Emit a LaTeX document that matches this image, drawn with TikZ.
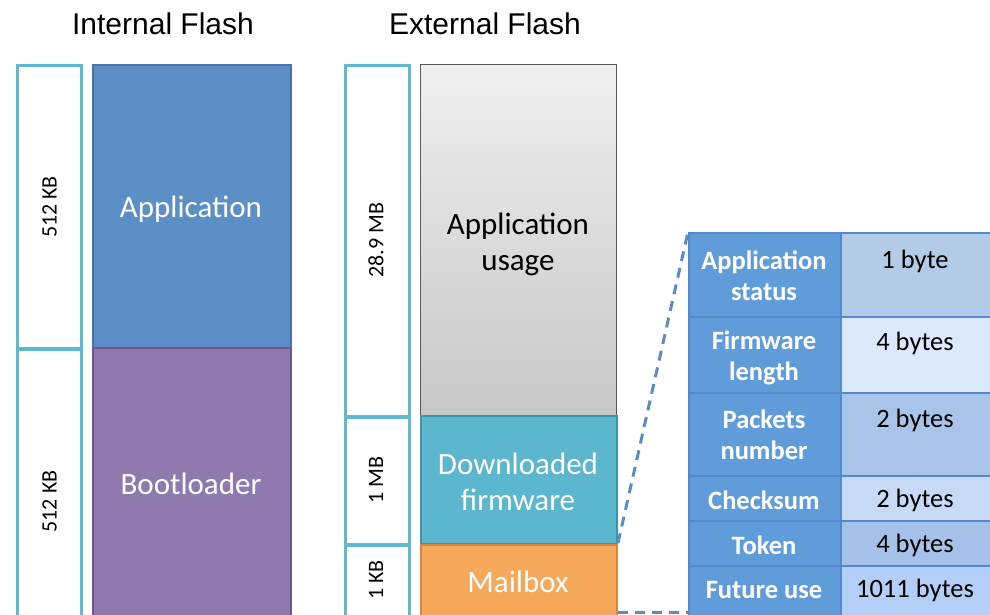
\documentclass[tikz,border=0pt]{standalone}
\usepackage{fontspec}
\setmainfont{Carlito}
\newfontfamily\arialf{Liberation Sans}
\usetikzlibrary{positioning}
\definecolor{barc}{HTML}{5BBAD0}
\definecolor{appf}{HTML}{5C8FC5}
\definecolor{appd}{HTML}{4A72A6}
\definecolor{bootf}{HTML}{8F79AE}
\definecolor{bootd}{HTML}{6C5A8C}
\definecolor{dlf}{HTML}{5BB6CE}
\definecolor{dld}{HTML}{3F93A8}
\definecolor{mbf}{HTML}{F6A85B}
\definecolor{mbd}{HTML}{D5873F}
\definecolor{tl}{HTML}{619CDA}
\definecolor{tgrid}{HTML}{5289CA}
\definecolor{rA}{HTML}{B3CBE7}
\definecolor{rB}{HTML}{DCE8FB}
\definecolor{rC}{HTML}{A8C4E8}
\definecolor{rD}{HTML}{C8DAF6}
\definecolor{rE}{HTML}{A6C2EA}
\definecolor{rF}{HTML}{B4CFF7}
\definecolor{dashc}{HTML}{5B8CC7}
\tikzset{
  sizebar/.style={draw=barc, line width=3pt, fill=white, anchor=north west, inner sep=0pt},
  region/.style={anchor=north west, inner sep=0pt, line width=2pt},
  sizelbl/.style={rotate=90, font=\fontsize{22}{26}\selectfont, text=black},
  reglbl/.style={font=\fontsize{31}{36}\selectfont, align=center},
  title/.style={font=\arialf\fontsize{30}{35}\selectfont, text=black},
  lcell/.style={fill=tl, draw=tgrid, line width=1.5pt, anchor=north west, inner sep=0pt, minimum width=152pt},
  rcell/.style={draw=tgrid, line width=1.5pt, anchor=north west, inner sep=0pt, minimum width=160pt},
  ltxt/.style={font=\bfseries\fontsize{26.5}{31}\selectfont, text=white, align=center},
  rtxt/.style={font=\fontsize{26.5}{31}\selectfont, text=black},
  dashln/.style={draw=dashc, line width=3pt, dash pattern=on 10pt off 7pt}
}
\begin{document}
\begin{tikzpicture}[x=1pt,y=-1pt]
\useasboundingbox (0,0) rectangle (990,614);
% titles
\node[title] (t1) at (163,24) {Internal Flash};
\node[title] (t2) at (485,24) {External Flash};
% internal flash size bars
\node[sizebar, minimum width=64pt, minimum height=283pt] (s1) at (16,64) {};
\node[sizebar, minimum width=64pt, minimum height=280pt] (s2) at (16,348) {};
\node[sizelbl] at (s1.center) {512 KB};
\node[sizelbl] at ([yshift=-12pt]s2.center) {512 KB};
% internal regions
\node[region, fill=appf, draw=appd, minimum width=198pt, minimum height=283pt] (app) at (92,64) {};
\node[region, fill=bootf, draw=bootd, minimum width=198pt, minimum height=280pt] (boot) at (92,347) {};
\node[reglbl, text=white] at (191,209) {Application};
\node[reglbl, text=white] at (191,484) {Bootloader};
% external size bars
\node[sizebar, minimum width=64pt, minimum height=351pt] (s3) at (344,64) {};
\node[sizebar, minimum width=64pt, minimum height=127pt] (s4) at (344,416) {};
\node[sizebar, minimum width=64pt, minimum height=80pt] (s5) at (344,544) {};
\node[sizelbl] at (376,240) {28.9 MB};
\node[sizelbl] at (376,480) {1 MB};
\node[sizelbl] at (376,580) {1 KB};
% external regions
\node[region, draw=black!65, line width=1.2pt, top color=black!6, bottom color=black!22, minimum width=196pt, minimum height=351pt] (use) at (420,64) {};
\node[region, fill=dlf, draw=dld, minimum width=196pt, minimum height=128pt] (dl) at (420,415) {};
\node[region, fill=mbf, draw=mbd, minimum width=196pt, minimum height=80pt] (mb) at (420,544) {};
\node[reglbl, text=black] at (518,244) {Application\\usage};
\node[reglbl, text=white] at (518,482) {Downloaded\\firmware};
\node[reglbl, text=white] at (518,582) {Mailbox};
% table
\node[lcell, minimum height=84pt] (l1) at (688,232) {};
\node[lcell, minimum height=76pt] (l2) at (688,316) {};
\node[lcell, minimum height=83pt] (l3) at (688,392) {};
\node[lcell, minimum height=45pt] (l4) at (688,475) {};
\node[lcell, minimum height=45pt] (l5) at (688,520) {};
\node[lcell, minimum height=55pt] (l6) at (688,565) {};
\node[rcell, fill=rA, minimum height=84pt] (r1) at (840,232) {};
\node[rcell, fill=rB, minimum height=76pt] (r2) at (840,316) {};
\node[rcell, fill=rC, minimum height=83pt] (r3) at (840,392) {};
\node[rcell, fill=rD, minimum height=45pt] (r4) at (840,475) {};
\node[rcell, fill=rE, minimum height=45pt] (r5) at (840,520) {};
\node[rcell, fill=rF, minimum height=55pt] (r6) at (840,565) {};
\node[ltxt] at (764,276) {Application\\status};
\node[ltxt] at (764,358) {Firmware\\length};
\node[ltxt] at (764,435) {Packets\\number};
\node[ltxt] at (764,500) {Checksum};
\node[ltxt] at (764,545) {Token};
\node[ltxt] at (764,590) {Future use};
\node[rtxt] at (915,261) {1 byte};
\node[rtxt] at (915,343) {4 bytes};
\node[rtxt] at (915,420) {2 bytes};
\node[rtxt] at (915,500) {2 bytes};
\node[rtxt] at (915,545) {4 bytes};
\node[rtxt] at (915,590) {1011 bytes};
% dashed connectors
\coordinate (mbtop) at (618,543);
\coordinate (mbbot) at (618,612);
\draw[dashln] (mbtop) -- (l1.north west);
\draw[dashln] (mbbot) -- (l6.west |- mbbot);
\end{tikzpicture}
\end{document}
